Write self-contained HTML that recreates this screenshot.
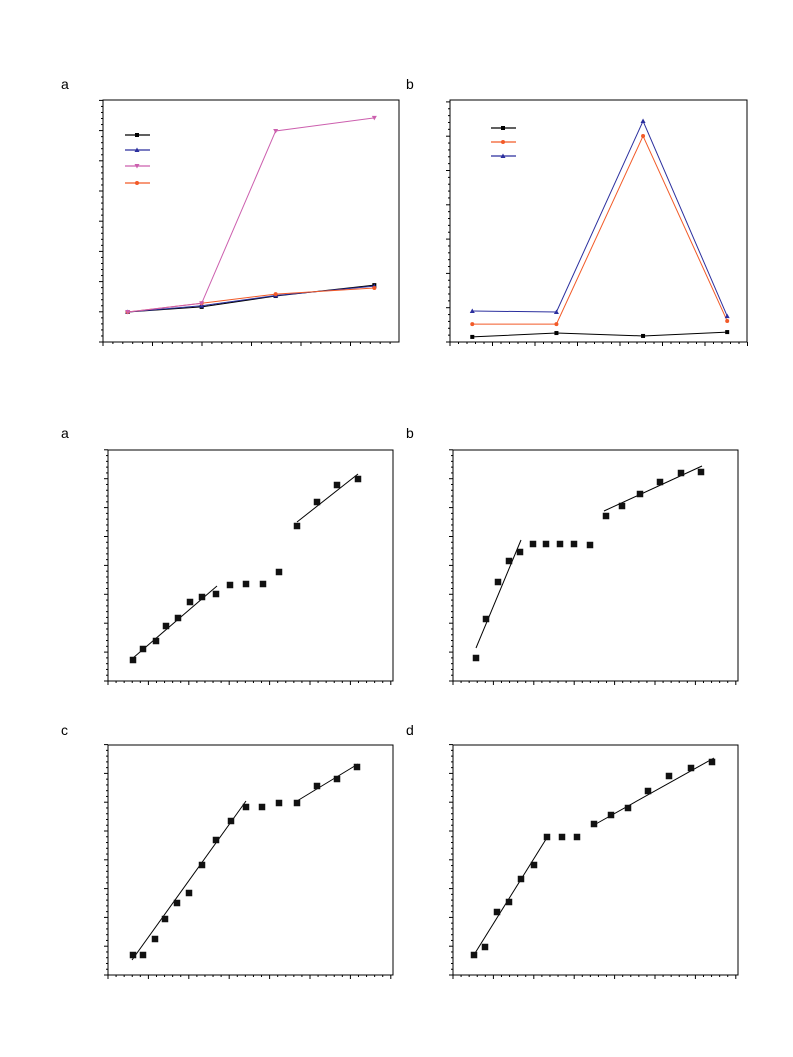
<!DOCTYPE html>
<html><head><meta charset="utf-8"><style>
html,body{margin:0;padding:0;background:#fff;}
svg{display:block;font-family:"Liberation Sans",sans-serif;}
</style></head><body>
<svg id="fig" width="793" height="1057" viewBox="0 0 793 1057" xmlns="http://www.w3.org/2000/svg">
<rect width="793" height="1057" fill="#fff"/>
<text x="61" y="89" font-size="14">a</text>
<text x="406" y="89" font-size="14">b</text>
<text x="61" y="438" font-size="14">a</text>
<text x="406" y="438" font-size="14">b</text>
<text x="61" y="735" font-size="14">c</text>
<text x="406" y="735" font-size="14">d</text>
</svg>
<script>
// ---- Top panel a ----
const topAX = [1.0, 4.0, 7.0, 11.0];
const topABlack = [12.4, 14.5, 19.0, 23.5];
const topABlue = [12.4, 15.0, 19.2, 23.1];
const topAPink = [12.4, 16.0, 87.2, 92.6];
const topAOrange = [12.4, 16.0, 19.8, 22.3];
// ---- Top panel b ----
const topBX = [0.9, 4.3, 7.8, 11.2];
const topBBlack = [2.1, 3.7, 2.5, 4.1];
const topBOrange = [7.4, 7.4, 85.1, 8.7];
const topBBlue = [12.8, 12.4, 91.3, 10.7];
// ---- Mid panel a ----
const midAX = [2.5,3.5,4.8,5.8,7.0,8.2,9.4,10.8,12.2,13.8,15.5,17.1,18.9,20.9,22.9,25.0];
const midAY = [2.1,3.2,4.0,5.5,6.3,7.9,8.4,8.7,9.6,9.7,9.7,10.9,15.5,17.9,19.6,20.2];
const midAFitX = [[2.5,10.9],[18.9,25.0]];
const midAFitY = [[2.3,9.5],[15.9,20.7]];
// ---- Mid panel b ----
const midBX = [2.3,3.3,4.5,5.6,6.7,8.0,9.3,10.7,12.1,13.7,15.3,16.9,18.7,20.7,22.8,24.8];
const midBY = [2.3,6.2,9.9,12.0,12.9,13.7,13.7,13.7,13.7,13.6,16.5,17.5,18.7,19.9,20.8,20.9];
const midBFitX = [[2.3,6.8],[15.1,24.9]];
const midBFitY = [[3.3,14.1],[17.0,21.5]];
// ---- Bottom panel c ----
const botCX = [2.5,3.5,4.7,5.7,6.9,8.1,9.4,10.8,12.3,13.8,15.4,17.1,18.9,20.9,22.9,24.9];
const botCY = [2.0,2.0,3.6,5.6,7.2,8.2,11.0,13.5,15.4,16.8,16.8,17.2,17.2,18.9,19.6,20.8];
const botCFitX = [[2.4,13.8],[18.9,25.0]];
const botCFitY = [[1.5,17.4],[17.4,21.1]];
// ---- Bottom panel d ----
const botDX = [2.1,3.2,4.4,5.6,6.8,8.1,9.4,10.9,12.4,14.1,15.8,17.5,19.5,21.6,23.8,25.9];
const botDY = [2.0,2.8,6.3,7.3,9.6,11.0,13.8,13.8,13.8,15.1,16.0,16.7,18.4,19.9,20.7,21.3];
const botDFitX = [[1.9,9.5],[14.1,26.1]];
const botDFitY = [[1.7,13.9],[15.0,21.7]];

const NS = "http://www.w3.org/2000/svg";
const svg = document.getElementById('fig');
function mk(tag, attrs, parent){
  const e = document.createElementNS(NS, tag);
  for (const k in attrs) e.setAttribute(k, attrs[k]);
  (parent || svg).appendChild(e);
  return e;
}
function panel(name, L, R, T, B, xd, yd, yMajorPx, yMinorN, xMajorPx, xMinorN){
  const g = mk('g', {});
  
  
  const fr = mk('rect', {x:L, y:T, width:R-L, height:B-T, fill:'none', stroke:'#000', 'stroke-width':1}, g);
  
  
  const ax = mk('g', {stroke:'#000','stroke-width':1}, g);
  
  
  const ystep = yMajorPx / yMinorN;
  for (let i = 0; B - i*ystep >= T - 0.5; i++){
    const y = B - i*ystep; const len = (i % yMinorN === 0) ? 4 : 2;
    mk('line', {x1:L-len, x2:L, y1:y, y2:y}, ax);
  }
  const xstep = xMajorPx / xMinorN;
  for (let i = 0; L + i*xstep <= R + 0.5; i++){
    const x = L + i*xstep; const len = (i % xMinorN === 0) ? 4 : 2;
    mk('line', {x1:x, x2:x, y1:B, y2:B+len}, ax);
  }
  return {
    g,
    sx: v => L + (v - xd[0]) / (xd[1]-xd[0]) * (R-L),
    sy: v => B - (v - yd[0]) / (yd[1]-yd[0]) * (B-T)
  };
}
function marker(p, type, x, y, color, size, name){
  let e;
  if (type === 'sq') e = mk('rect', {x:x-size/2, y:y-size/2, width:size, height:size, fill:color}, p.g);
  else if (type === 'circ') e = mk('circle', {cx:x, cy:y, r:size/2, fill:color}, p.g);
  else if (type === 'tri') e = mk('polygon', {points:`${x},${y-size/2-0.5} ${x-size/2-0.5},${y+size/2} ${x+size/2+0.5},${y+size/2}`, fill:color}, p.g);
  else e = mk('polygon', {points:`${x},${y+size/2+0.5} ${x-size/2-0.5},${y-size/2} ${x+size/2+0.5},${y-size/2}`, fill:color}, p.g);
  
  
}
function series(p, xs, ys, color, type, name){
  const pts = xs.map((x,i) => p.sx(x) + ',' + p.sy(ys[i])).join(' ');
  const l = mk('polyline', {points:pts, fill:'none', stroke:color, 'stroke-width':1}, p.g);
  
  
  xs.forEach((x,i) => marker(p, type, p.sx(x), p.sy(ys[i]), color, 4, name + '-point'));
}
function legend(p, x, y, color, type, name){
  const l = mk('line', {x1:x, x2:x+25, y1:y, y2:y, stroke:color, 'stroke-width':1.2}, p.g);
  
  
  marker(p, type, x+12, y, color, 4, name + '-marker');
}
function scatter(p, xs, ys, fx, fy, name){
  fx.forEach((seg,i) => {
    const l = mk('line', {x1:p.sx(seg[0]), y1:p.sy(fy[i][0]), x2:p.sx(seg[1]), y2:p.sy(fy[i][1]), stroke:'#000','stroke-width':1}, p.g);
    
    
  });
  xs.forEach((x,i) => marker(p, 'sq', p.sx(x), p.sy(ys[i]), '#111', 6.5, name + '-point'));
}

const BLK='#000', BLU='#2b2f9e', PNK='#cc5fae', ORG='#f25a28';
const pa = panel('top-a-chart', 103, 399, 100, 342, [0,12], [0,100], 30.2, 5, 49.5, 5);
series(pa, topAX, topABlack, BLK, 'sq', 'series-black');
series(pa, topAX, topABlue, BLU, 'tri', 'series-blue');
series(pa, topAX, topAOrange, ORG, 'circ', 'series-orange');
series(pa, topAX, topAPink, PNK, 'dtri', 'series-pink');
legend(pa, 125, 135, BLK, 'sq', 'legend-black');
legend(pa, 125, 150, BLU, 'tri', 'legend-blue');
legend(pa, 125, 166, PNK, 'dtri', 'legend-pink');
legend(pa, 125, 183, ORG, 'circ', 'legend-orange');

const pb = panel('top-b-chart', 450, 747, 100, 342, [0,12], [0,100], 34.3, 5, 42.5, 5);
series(pb, topBX, topBBlack, BLK, 'sq', 'series-black');
series(pb, topBX, topBOrange, ORG, 'circ', 'series-orange');
series(pb, topBX, topBBlue, BLU, 'tri', 'series-blue');
legend(pb, 491, 128, BLK, 'sq', 'legend-black');
legend(pb, 491, 142, ORG, 'circ', 'legend-orange');
legend(pb, 491, 156, BLU, 'tri', 'legend-blue');

const pma = panel('mid-a-chart', 108, 393, 450, 681, [0,28.5], [0,23.1], 28.9, 5, 40.4, 5);
scatter(pma, midAX, midAY, midAFitX, midAFitY, 'mid-a');
const pmb = panel('mid-b-chart', 453, 738, 450, 681, [0,28.5], [0,23.1], 28.9, 5, 40.4, 5);
scatter(pmb, midBX, midBY, midBFitX, midBFitY, 'mid-b');
const pc = panel('bottom-c-chart', 108, 393, 745, 975, [0,28.5], [0,23.0], 28.8, 5, 40.4, 5);
scatter(pc, botCX, botCY, botCFitX, botCFitY, 'bottom-c');
const pd = panel('bottom-d-chart', 453, 738, 745, 975, [0,28.5], [0,23.0], 28.8, 5, 40.4, 5);
scatter(pd, botDX, botDY, botDFitX, botDFitY, 'bottom-d');
</script>
</body></html>
